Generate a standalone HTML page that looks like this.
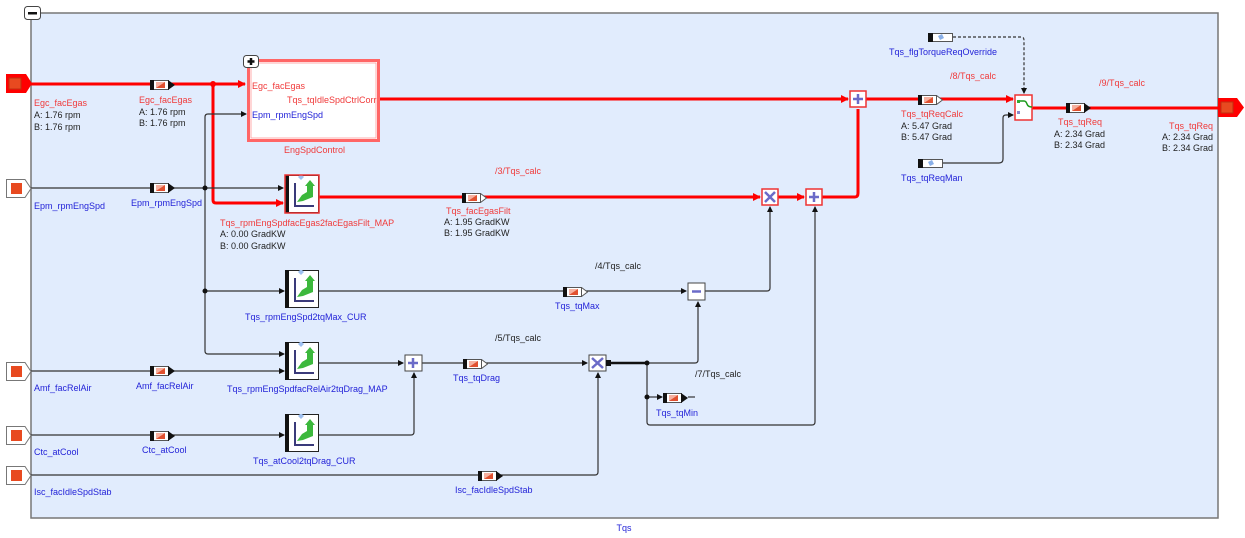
<!DOCTYPE html>
<html><head><meta charset="utf-8"><style>
html,body{margin:0;padding:0;background:#fff;width:1245px;height:538px;overflow:hidden}
text{font-family:"Liberation Sans",sans-serif;font-size:9px}
.r{fill:#f03a3a}.b{fill:#2323d8}.k{fill:#222}
</style></head><body>
<svg width="1245" height="538" viewBox="0 0 1245 538" xmlns="http://www.w3.org/2000/svg">
<defs>
<symbol id="mi" viewBox="0 0 25 10" width="25" height="10">
<rect x="0.5" y="0.5" width="18" height="9" fill="#fff" stroke="#555"/>
<rect x="0" y="0" width="4" height="10" fill="#111"/>
<rect x="6" y="2" width="9" height="6" fill="#f5b0a0"/><path d="M6,8 L15,2 L15,8Z" fill="#e05030"/>
<path d="M18,0 L25,5 L18,10Z" fill="#111"/>
</symbol>
<symbol id="mo" viewBox="0 0 25 10" width="25" height="10">
<rect x="0.5" y="0.5" width="18" height="9" fill="#fff" stroke="#555"/>
<rect x="0" y="0" width="4" height="10" fill="#111"/>
<rect x="6" y="2" width="9" height="6" fill="#f5b0a0"/><path d="M6,8 L15,2 L15,8Z" fill="#e05030"/>
<path d="M18.5,0.5 L24.5,5 L18.5,9.5Z" fill="#fff" stroke="#555"/>
</symbol>
<symbol id="cal" viewBox="0 0 25 9" width="25" height="9">
<rect x="0.5" y="0.5" width="24" height="8" fill="#fff" stroke="#555"/>
<rect x="0" y="0" width="5" height="9" fill="#111"/>
<path d="M10,3 L14,1 L16,5 L12,7Z" fill="#8ab0e8"/>
</symbol>
<symbol id="map" viewBox="0 0 34 38" width="34" height="38">
<rect x="0.5" y="0.5" width="33" height="37" fill="#fff" stroke="#222"/>
<rect x="0" y="0" width="4" height="38" fill="#111"/>
<path d="M10,8 L10,31 L29,31" fill="none" stroke="#3a3a7a" stroke-width="2"/>
<path d="M12,27 L17,20 L22,17 L22,11 L20,11 L25,5 L30,11 L28,11 L28,22 L18,26Z" fill="#3cb83c"/>
<path d="M16,-1 L19,2 L16,5 L13,2Z" fill="#9ec0f0"/>
</symbol>
<symbol id="inp" viewBox="0 0 26 19" width="26" height="19">
<path d="M0.5,0.5 L19,0.5 L25,9.5 L19,18.5 L0.5,18.5Z" fill="#fff" stroke="#777"/>
<rect x="5" y="4" width="11" height="11" fill="#e84a20"/>
</symbol>
<marker id="ak" markerWidth="6" markerHeight="6" refX="5" refY="3" orient="auto" markerUnits="userSpaceOnUse"><path d="M0,0 L6,3 L0,6Z" fill="#111"/></marker>
<marker id="ar" markerWidth="8" markerHeight="8" refX="7" refY="4" orient="auto" markerUnits="userSpaceOnUse"><path d="M0,0 L8,4 L0,8Z" fill="#f00"/></marker>
</defs>
<rect x="31" y="13" width="1187" height="505" fill="#e1ecfd" stroke="#777" stroke-width="1.5"/>
<rect x="24.5" y="6.5" width="16" height="13" rx="3" fill="#fff" stroke="#444"/>
<rect x="28" y="12" width="9" height="2.5" fill="#111"/>
<text x="624" y="531" text-anchor="middle" class="b">Tqs</text>

<g fill="none" stroke="#f00" stroke-width="3">
<path d="M31,84 L245,84" marker-end="url(#ar)"/>
<path d="M213,84 L213,200 Q213,203 216,203 L283,203" marker-end="url(#ar)"/>
<path d="M318,197 L760,197" marker-end="url(#ar)"/>
<path d="M778,197 L804,197" marker-end="url(#ar)"/>
<path d="M822,197 L855,197 Q858,197 858,193 L858,109"/>
<path d="M378,99 L848,99" marker-end="url(#ar)"/>
<path d="M866,99 L1013,99" marker-end="url(#ar)"/>
<path d="M1032,108 L1220,108"/>
</g>
<circle cx="213" cy="84" r="3" fill="#f00"/>
<g fill="none" stroke="#333" stroke-width="1.2">
<path d="M31,188 L283,188" marker-end="url(#ak)"/>
<path d="M205,188 L205,117 Q205,114 208,114 L246,114" marker-end="url(#ak)"/>
<path d="M205,188 L205,351 Q205,354 208,354 L284,354" marker-end="url(#ak)"/>
<path d="M205,291 L284,291" marker-end="url(#ak)"/>
<path d="M31,371 L284,371" marker-end="url(#ak)"/>
<path d="M31,435 L284,435" marker-end="url(#ak)"/>
<path d="M31,475 L595,475 Q598,475 598,472 L598,373" marker-end="url(#ak)"/>
<path d="M318,291 L686,291" marker-end="url(#ak)"/>
<path d="M705,291 L767,291 Q770,291 770,288 L770,207" marker-end="url(#ak)"/>
<path d="M318,363 L403,363" marker-end="url(#ak)"/>
<path d="M318,435 L411,435 Q414,435 414,432 L414,373" marker-end="url(#ak)"/>
<path d="M422,363 L587,363" marker-end="url(#ak)"/>
<path d="M647,363 L695,363 Q698,363 698,360 L698,302" marker-end="url(#ak)"/>
<path d="M647,363 L647,422 Q647,425 650,425 L812,425 Q815,425 815,422 L815,207" marker-end="url(#ak)"/>
<path d="M647,397 L662,397" marker-end="url(#ak)"/>
<path d="M688,397 L695,397"/>
<path d="M943,163 L999,163 Q1003,163 1003,159 L1003,118 Q1003,115 1006,115 L1013,115" marker-end="url(#ak)"/>
<path d="M953,37 L1021,37 Q1024,37 1024,40 L1024,93" stroke-dasharray="3,2" marker-end="url(#ak)"/>
</g>
<path d="M606,363 L647,363" stroke="#111" stroke-width="2.5"/>
<circle cx="205" cy="188" r="2.5" fill="#111"/><circle cx="205" cy="291" r="2.5" fill="#111"/>
<circle cx="647" cy="363" r="2.5" fill="#111"/><circle cx="647" cy="397" r="2.5" fill="#111"/>

<path d="M6,74 L26,74 L32,83.5 L26,93 L6,93Z" fill="#f00"/><rect x="9" y="78" width="12" height="11" fill="#e84a20" stroke="#c03010"/>
<use href="#inp" x="6" y="179"/><use href="#inp" x="6" y="362"/><use href="#inp" x="6" y="426"/><use href="#inp" x="6" y="466"/>
<path d="M1218,98 L1237,98 L1244,107.5 L1237,117 L1218,117Z" fill="#f00"/><rect x="1221" y="102" width="12" height="11" fill="#e84a20" stroke="#c03010"/>

<use href="#mi" x="150" y="80"/><use href="#mi" x="150" y="183"/><use href="#mi" x="150" y="366"/><use href="#mi" x="150" y="431"/><use href="#mi" x="478" y="471"/>
<use href="#mo" x="462" y="193"/><use href="#mo" x="918" y="95"/><use href="#mo" x="563" y="287"/><use href="#mo" x="463" y="359"/>
<use href="#mi" x="663" y="393"/><use href="#mi" x="1066" y="103"/>
<use href="#cal" x="928" y="33"/><use href="#cal" x="918" y="159"/>

<rect x="248.5" y="60.5" width="130" height="80" fill="#fff" stroke="#f66" stroke-width="3"/>
<rect x="251" y="63" width="125" height="75" fill="none" stroke="#f99" stroke-width="0.8"/>
<rect x="243.5" y="55.5" width="15" height="12" rx="3" fill="#fff" stroke="#444"/>
<path d="M251,58 L251,65 M247.5,61.5 L254.5,61.5" stroke="#111" stroke-width="2.5"/>

<use href="#map" x="285" y="175"/><rect x="285" y="175" width="34" height="38" fill="none" stroke="#e33" stroke-width="1.5"/>
<use href="#map" x="285" y="270"/><use href="#map" x="285" y="342"/><use href="#map" x="285" y="414"/>

<g stroke-width="1.5">
<rect x="762" y="189" width="16" height="16" fill="#fff" stroke="#e33"/>
<rect x="806" y="189" width="16" height="16" fill="#fff" stroke="#e33"/>
<rect x="850" y="91" width="16" height="16" fill="#fff" stroke="#e33"/>
<rect x="688" y="283" width="17" height="17" fill="#fff" stroke="#444" stroke-width="1"/>
<rect x="405" y="355" width="17" height="16" fill="#fff" stroke="#444" stroke-width="1"/>
<rect x="589" y="355" width="17" height="16" fill="#fff" stroke="#444" stroke-width="1"/>
<rect x="1015" y="95" width="17" height="25" fill="#fff" stroke="#e33"/>
</g>
<g stroke="#6b6bc8" stroke-width="2.5">
<path d="M765,192 L775,202 M775,192 L765,202"/>
<path d="M592,358 L603,368 M603,358 L592,368"/>
<path d="M814,192 L814,202 M809,197 L819,197"/>
<path d="M858,94 L858,104 M853,99 L863,99"/>
<path d="M413,358 L413,368 M408,363 L418,363"/>
<path d="M692,291.5 L701,291.5"/>
</g>
<rect x="1017" y="100" width="3" height="3" fill="#3a3"/><rect x="1017" y="111" width="3" height="3" fill="#88c"/>
<path d="M1020,101 L1024,101 Q1026,101 1027,104 Q1028,107 1032,107" fill="none" stroke="#1a9a1a" stroke-width="1.5"/>
<rect x="606" y="360" width="5" height="6" fill="#111"/>

<text x="34" y="106" class="r">Egc_facEgas</text><text x="34" y="118" class="k">A: 1.76 rpm</text><text x="34" y="130" class="k">B: 1.76 rpm</text>
<text x="139" y="103" class="r">Egc_facEgas</text><text x="139" y="115" class="k">A: 1.76 rpm</text><text x="139" y="126" class="k">B: 1.76 rpm</text>
<text x="252" y="89" class="r">Egc_facEgas</text><text x="287" y="103" class="r">Tqs_tqIdleSpdCtrlCorr</text><text x="252" y="118" class="b">Epm_rpmEngSpd</text>
<text x="284" y="153" class="r">EngSpdControl</text>
<text x="34" y="209" class="b">Epm_rpmEngSpd</text><text x="131" y="206" class="b">Epm_rpmEngSpd</text>
<text x="220" y="226" class="r">Tqs_rpmEngSpdfacEgas2facEgasFilt_MAP</text><text x="220" y="237" class="k">A: 0.00 GradKW</text><text x="220" y="249" class="k">B: 0.00 GradKW</text>
<text x="495" y="174" class="r">/3/Tqs_calc</text>
<text x="446" y="214" class="r">Tqs_facEgasFilt</text><text x="444" y="225" class="k">A: 1.95 GradKW</text><text x="444" y="236" class="k">B: 1.95 GradKW</text>
<text x="245" y="320" class="b">Tqs_rpmEngSpd2tqMax_CUR</text>
<text x="595" y="269" class="k">/4/Tqs_calc</text><text x="555" y="309" class="b">Tqs_tqMax</text>
<text x="227" y="392" class="b">Tqs_rpmEngSpdfacRelAir2tqDrag_MAP</text>
<text x="34" y="391" class="b">Amf_facRelAir</text><text x="136" y="389" class="b">Amf_facRelAir</text>
<text x="495" y="341" class="k">/5/Tqs_calc</text><text x="453" y="381" class="b">Tqs_tqDrag</text>
<text x="695" y="377" class="k">/7/Tqs_calc</text><text x="656" y="416" class="b">Tqs_tqMin</text>
<text x="34" y="455" class="b">Ctc_atCool</text><text x="142" y="453" class="b">Ctc_atCool</text>
<text x="253" y="464" class="b">Tqs_atCool2tqDrag_CUR</text>
<text x="34" y="495" class="b">Isc_facIdleSpdStab</text><text x="455" y="493" class="b">Isc_facIdleSpdStab</text>
<text x="889" y="55" class="b">Tqs_flgTorqueReqOverride</text>
<text x="950" y="79" class="r">/8/Tqs_calc</text>
<text x="901" y="117" class="r">Tqs_tqReqCalc</text><text x="901" y="129" class="k">A: 5.47 Grad</text><text x="901" y="140" class="k">B: 5.47 Grad</text>
<text x="901" y="181" class="b">Tqs_tqReqMan</text>
<text x="1099" y="86" class="r">/9/Tqs_calc</text>
<text x="1058" y="125" class="r">Tqs_tqReq</text><text x="1054" y="137" class="k">A: 2.34 Grad</text><text x="1054" y="148" class="k">B: 2.34 Grad</text>
<text x="1213" y="129" text-anchor="end" class="r">Tqs_tqReq</text><text x="1213" y="140" text-anchor="end" class="k">A: 2.34 Grad</text><text x="1213" y="151" text-anchor="end" class="k">B: 2.34 Grad</text>
</svg>
</body></html>
